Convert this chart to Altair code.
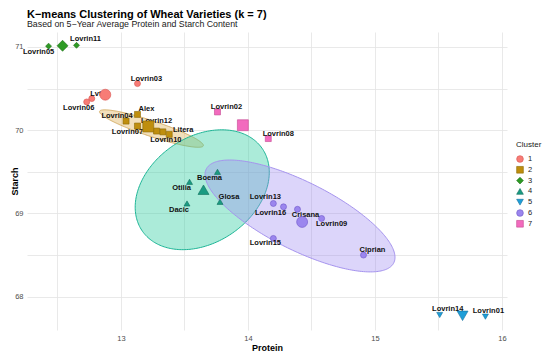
import altair as alt
import numpy as np
import pandas as pd

# ---- data ----
names = ["Lovrin05", "Lovrin11", "Lovrin03", "Lvt", "Lovrin06", "Lovrin04", "Alex",
         "Lovrin07", "Lovrin12", "Lovrin10", "Litera", "Lovrin02", "Lovrin08", "Boema",
         "Otilia", "Glosa", "Dacic", "Lovrin13", "Lovrin16", "Crisana", "Lovrin09",
         "Lovrin15", "Ciprian", "Lovrin14", "Lovrin01"]
protein = [12.43, 12.65, 13.13, 12.77, 12.73, 13.04, 13.13, 13.13, 13.28, 13.33, 13.38,
           13.76, 14.16, 13.76, 13.54, 13.78, 13.52, 14.20, 14.28, 14.39, 14.58, 14.20,
           14.91, 15.51, 15.87]
starch = [71.01, 71.02, 70.56, 70.38, 70.34, 70.11, 70.19, 70.05, 69.99, 69.98, 69.95,
          70.22, 69.90, 69.50, 69.38, 69.14, 69.12, 69.12, 69.08, 69.05, 68.94, 68.70,
          68.50, 67.78, 67.76]
cluster = [3, 3, 1, 1, 1, 2, 2, 2, 2, 2, 2, 7, 7, 4, 4, 4, 4, 6, 6, 6, 6, 6, 6, 5, 5]

# ellipse parameters (centre, half extents, correlation)
ell_cluster = [2, 4, 6]
ell_cx = [13.24, 13.64, 14.41]
ell_cy = [70.02, 69.285, 68.97]
ell_rx = [0.409, 0.528, 0.748]
ell_ry = [0.225, 0.720, 0.672]
ell_rho = [-0.90, 0.291, -0.74]

cluster_labels = ["1", "2", "3", "4", "5", "6", "7"]

# ---- styling ----
FONT = "Liberation Sans"
fills = ["#F77C76", "#BF8E0E", "#2E9A25", "#1A9B82", "#1E9ED8", "#9B86EE", "#F26BBE"]
strokes = ["#D9534F", "#8C6A05", "#1F6E18", "#0F6F5C", "#14709C", "#6E58C8", "#C54690"]
shapes = ["circle", "square", "diamond", "triangle-up", "triangle-down", "circle", "square"]
ell_fill = {2: "#E2B865", 4: "#2ECC9F", 6: "#9B86F0"}
ell_stroke = {2: "#D6B06A", 4: "#1DB596", 6: "#A593EE"}
ell_opacity = {2: 0.45, 4: 0.40, 6: 0.35}

label_offsets = {
    "Lovrin05": (-10, 6), "Lovrin11": (9, -6), "Lovrin03": (9, -5), "Lvt": (4, -5),
    "Lovrin06": (-8, 6), "Lovrin04": (-9, -5), "Alex": (9, -5), "Lovrin07": (-10, 6),
    "Lovrin12": (0, -10), "Lovrin10": (3, 8), "Litera": (14, -4), "Lovrin02": (9, -5),
    "Lovrin08": (10, -5), "Boema": (-8, 6), "Otilia": (-8, 6), "Glosa": (9, -5),
    "Dacic": (-8, 7), "Lovrin13": (-8, -6), "Lovrin16": (-13, 6), "Crisana": (8, 6),
    "Lovrin09": (10, 6), "Lovrin15": (-8, 5), "Ciprian": (9, -5), "Lovrin14": (8, -6),
    "Lovrin01": (3, -6),
}

df = pd.DataFrame({"name": names, "Protein": protein, "Starch": starch,
                   "Cluster": [str(c) for c in cluster]})

xs = alt.Scale(domain=[12.26, 16.04], nice=False, zero=False)
ys = alt.Scale(domain=[67.6, 71.18], nice=False, zero=False)
x_axis = alt.Axis(values=[12.5, 13, 13.5, 14, 14.5, 15, 15.5, 16],
                  labelExpr="datum.value % 1 == 0 ? format(datum.value, 'd') : ''",
                  title="Protein")
y_axis = alt.Axis(values=[68, 68.5, 69, 69.5, 70, 70.5, 71],
                  labelExpr="datum.value % 1 == 0 ? format(datum.value, 'd') : ''",
                  title="Starch", titleX=-8)

layers = []

# ellipses
for k, cx, cy, rx, ry, rho in zip(ell_cluster, ell_cx, ell_cy, ell_rx, ell_ry, ell_rho):
    t = np.linspace(0, np.pi, 121)
    ex = cx - rx * np.cos(t)
    mid = cy - rho * ry * np.cos(t)
    half = ry * np.sqrt(1 - rho ** 2) * np.sin(t)
    edf = pd.DataFrame({"ex": ex, "ey": mid + half, "ey2": mid - half})
    layers.append(
        alt.Chart(edf).mark_area(fill=ell_fill[k], fillOpacity=ell_opacity[k],
                                 stroke=ell_stroke[k], strokeWidth=1)
        .encode(x=alt.X("ex:Q", scale=xs, axis=x_axis),
                y=alt.Y("ey:Q", scale=ys, axis=y_axis),
                y2="ey2:Q")
    )

base = alt.Chart(df)
fill_enc = alt.Fill("Cluster:N", scale=alt.Scale(domain=cluster_labels, range=fills),
                    legend=alt.Legend(title="Cluster"))
shape_enc = alt.Shape("Cluster:N", scale=alt.Scale(domain=cluster_labels, range=shapes),
                      legend=alt.Legend(title="Cluster"))
stroke_enc = alt.Stroke("Cluster:N", scale=alt.Scale(domain=cluster_labels, range=strokes),
                        legend=None)

points = base.mark_point(filled=True, size=36, strokeWidth=0.6, opacity=1).encode(
    x=alt.X("Protein:Q", scale=xs, axis=x_axis),
    y=alt.Y("Starch:Q", scale=ys, axis=y_axis),
    fill=fill_enc, shape=shape_enc, stroke=stroke_enc,
)
layers.append(points)

# labels
for nm, (dx, dy) in label_offsets.items():
    layers.append(
        base.transform_filter(alt.datum.name == nm)
        .mark_text(font=FONT, fontWeight="bold", fontSize=7.5, color="#111111",
                   dx=dx, dy=dy, align="center", baseline="middle")
        .encode(x=alt.X("Protein:Q", scale=xs), y=alt.Y("Starch:Q", scale=ys), text="name:N")
    )

# centroids (group means)
centroids = base.transform_aggregate(
    Protein="mean(Protein)", Starch="mean(Starch)", groupby=["Cluster"]
).mark_point(filled=True, size=120, strokeWidth=0.6, opacity=1).encode(
    x=alt.X("Protein:Q", scale=xs),
    y=alt.Y("Starch:Q", scale=ys),
    fill=alt.Fill("Cluster:N", scale=alt.Scale(domain=cluster_labels, range=fills), legend=None),
    shape=alt.Shape("Cluster:N", scale=alt.Scale(domain=cluster_labels, range=shapes), legend=None),
    stroke=stroke_enc,
)
layers.append(centroids)

chart = alt.layer(*layers).properties(
    width=480, height=298,
    title=alt.TitleParams(
        text="K\u2212means Clustering of Wheat Varieties (k = 7)",
        subtitle="Based on 5\u2212Year Average Protein and Starch Content",
        anchor="start", frame="group", font=FONT, fontSize=11, fontWeight="bold",
        color="#000000", subtitleFont=FONT, subtitleFontSize=8.8, subtitleColor="#1a1a1a",
        offset=3.5, subtitlePadding=0,
    ),
    autosize=alt.AutoSizeParams(type="none"),
    padding={"left": 19, "top": 24, "right": 35, "bottom": 25},
).configure_view(stroke=None).configure_axis(
    domain=False, ticks=False, grid=True, gridColor="#E3E3E3", gridWidth=0.8,
    labelFont=FONT, labelFontSize=7.5, labelColor="#4D4D4D", labelPadding=4,
    titleFont=FONT, titleFontSize=9, titleFontWeight="bold", titleColor="#000000",
).configure_axisX(titlePadding=2).configure_legend(
    orient="none", legendX=489, legendY=109,
    titleFont=FONT, titleFontSize=8, titleFontWeight="normal", titleColor="#1a1a1a",
    labelFont=FONT, labelFontSize=7.5, labelColor="#1a1a1a",
    symbolSize=45, symbolStrokeWidth=0.6, rowPadding=0.8, titlePadding=6,
)

chart.save("out.html", embed_options={"renderer": "svg", "actions": False})
